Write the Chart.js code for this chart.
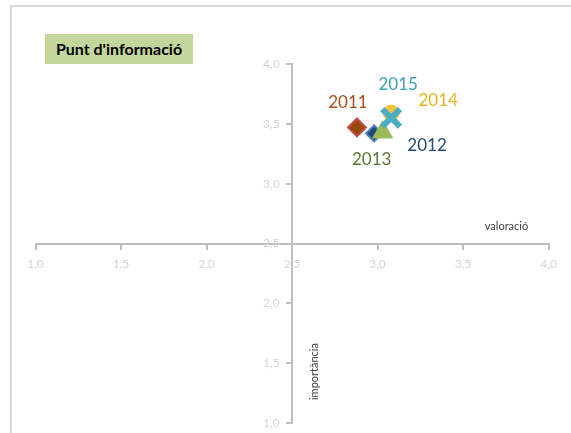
<!DOCTYPE html>
<html>
<head>
<meta charset="utf-8">
<script src="https://cdn.jsdelivr.net/npm/chart.js@4"></script>
<style>
html, body { margin: 0; padding: 0; background: #fff; overflow: hidden; }
#wrap { position: relative; width: 571px; height: 433px; overflow: hidden; }
#frame { position: absolute; left: 10px; top: 5px; width: 700px; height: 600px; border: 2px solid #d9d9d9; box-sizing: border-box; }
#title { position: absolute; left: 45px; top: 34px; width: 148px; height: 30px; background: #c3d69b;
         font: bold 16px Lato, sans-serif; line-height: 30px; text-align: center; color: #000; }
canvas { position: absolute; left: 0; top: 0; }
</style>
</head>
<body>
<div id="wrap">
  <div id="frame"></div>
  <canvas id="chart" width="571" height="433"></canvas>
  <div id="title">Punt d'informació</div>
</div>
<script>
// data
const years = ['2011', '2012', '2013', '2014', '2015'];
const valoracio = [2.88, 2.98, 3.03, 3.08, 3.08];
const importancia = [3.47, 3.42, 3.43, 3.59, 3.55];
const tickValues = [1.0, 1.5, 2.0, 2.5, 3.0, 3.5, 4.0];

// marker styles per year
const pointStyles = ['rectRot', 'rectRot', 'triangle', 'circle', 'crossRot'];
const fills = ['#984807', '#1f497d', '#9bbb59', '#f7c244', '#4bacc6'];
const borders = ['#c0504d', '#4f81bd', '#9bbb59', '#f7c244', '#4bacc6'];
const radii = [9, 8, 11.5, 8, 12.5];
const borderWidths = [2, 2, 1, 1, 6];
const labelColors = ['#a5501c', '#244a76', '#5e7432', '#ecb320', '#3aa0be'];
const labelOffsets = [[-9, -25], [53, 12], [-11, 27], [47, -13], [7, -33]];

const fmt = v => v.toFixed(1).replace('.', ',');
const setTicks = s => { s.ticks = tickValues.map(v => ({ value: v })); };
// centred axes should not take any room from the plot area
const noRoom = s => {
    if (s.isHorizontal()) s.height = 0; else s.width = 0;
    s.paddingTop = s.paddingBottom = s.paddingLeft = s.paddingRight = 0;
};

const textPlugin = {
    id: 'texts',
    afterDatasetsDraw(chart) {
        const ctx = chart.ctx;
        ctx.save();
        ctx.textAlign = 'center';
        ctx.textBaseline = 'middle';
        ctx.font = '17px Lato, sans-serif';
        years.forEach((yr, i) => {
            const pt = chart.getDatasetMeta(i).data[0];
            ctx.fillStyle = labelColors[i];
            ctx.fillText(yr, pt.x + labelOffsets[i][0], pt.y + labelOffsets[i][1]);
        });
        // axis titles
        const xs = chart.scales.x, ys = chart.scales.y;
        ctx.fillStyle = '#404040';
        ctx.font = '11px Lato, sans-serif';
        ctx.fillText('valoració', xs.getPixelForValue(4) - 42, ys.getPixelForValue(2.5) - 17);
        ctx.translate(xs.getPixelForValue(2.5) + 22, ys.getPixelForValue(1.43));
        ctx.rotate(-Math.PI / 2);
        ctx.fillText('importància', 0, 0);
        ctx.restore();
    }
};

new Chart(document.getElementById('chart'), {
    type: 'scatter',
    data: {
        datasets: years.map((yr, i) => ({
            label: yr,
            data: [{ x: valoracio[i], y: importancia[i] }],
            pointStyle: pointStyles[i],
            backgroundColor: fills[i],
            borderColor: borders[i],
            borderWidth: borderWidths[i],
            pointRadius: radii[i],
            order: years.length - i
        }))
    },
    options: {
        responsive: false,
        animation: false,
        events: [],
        layout: { autoPadding: false, padding: { left: 35.5, right: 22.5, top: 64, bottom: 10 } },
        plugins: { legend: { display: false }, tooltip: { enabled: false } },
        scales: {
            x: {
                type: 'linear', min: 1, max: 4,
                position: { y: 2.5 },
                border: { color: '#bfbfbf', width: 2 },
                grid: { drawOnChartArea: false, tickLength: 5, color: '#bfbfbf', lineWidth: 2 },
                ticks: { color: '#d4d4d4', font: { family: 'Lato', size: 12 }, padding: 8, maxRotation: 0, callback: fmt },
                afterBuildTicks: setTicks,
                afterFit: noRoom
            },
            y: {
                type: 'linear', min: 1, max: 4,
                position: { x: 2.5 },
                border: { color: '#bfbfbf', width: 2 },
                grid: { drawOnChartArea: false, tickLength: 5, color: '#bfbfbf', lineWidth: 2 },
                ticks: { color: '#d4d4d4', font: { family: 'Lato', size: 12 }, callback: v => fmt(v) + '    ' },
                afterBuildTicks: setTicks,
                afterFit: noRoom
            }
        }
    },
    plugins: [textPlugin]
});
</script>
</body>
</html>
